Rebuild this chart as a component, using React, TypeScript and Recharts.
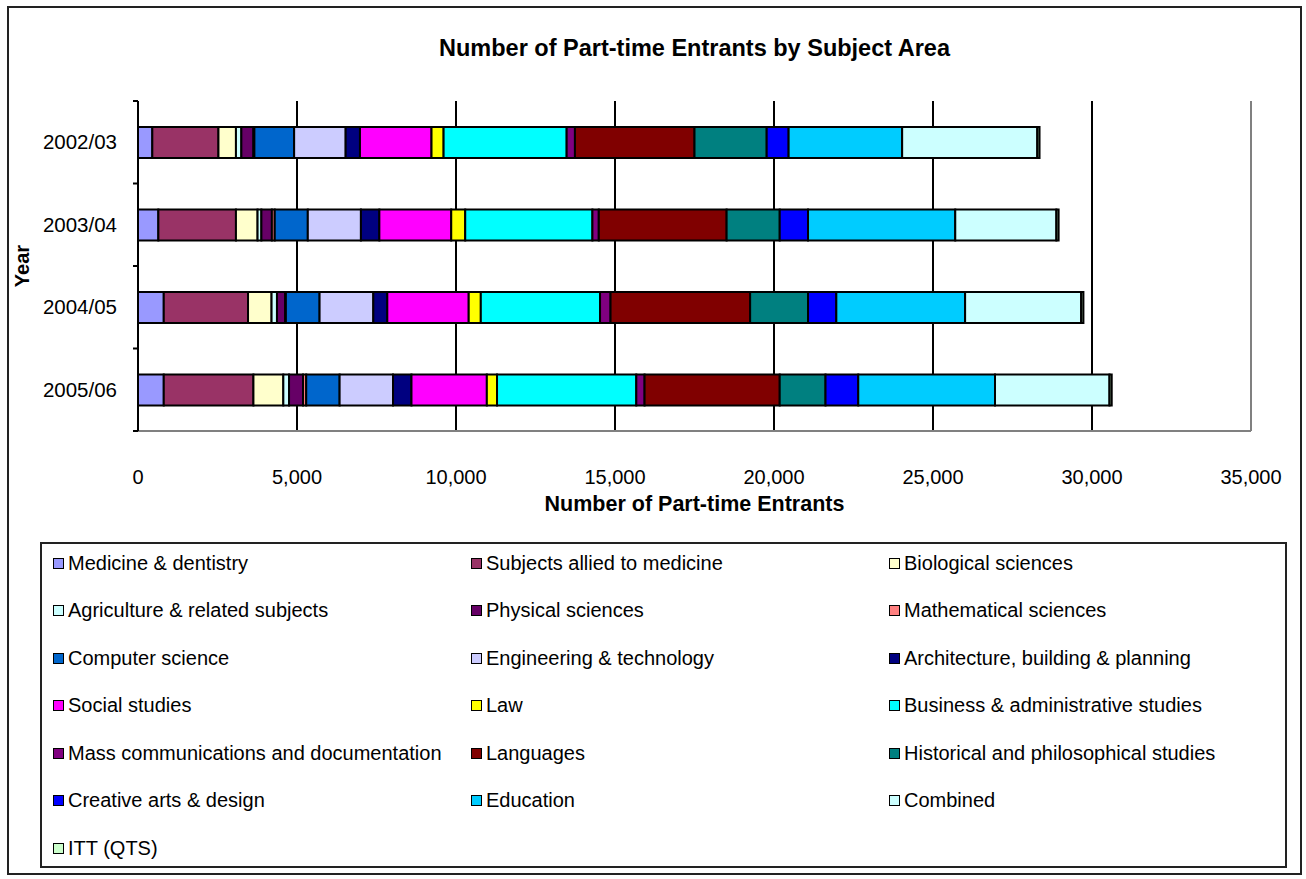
import { BarChart, Bar, XAxis, YAxis, CartesianGrid, ReferenceLine } from "recharts"

const years = ["2002/03", "2003/04", "2004/05", "2005/06"]

const subjects = [
  "Medicine & dentistry",
  "Subjects allied to medicine",
  "Biological sciences",
  "Agriculture & related subjects",
  "Physical sciences",
  "Mathematical sciences",
  "Computer science",
  "Engineering & technology",
  "Architecture, building & planning",
  "Social studies",
  "Law",
  "Business & administrative studies",
  "Mass communications and documentation",
  "Languages",
  "Historical and philosophical studies",
  "Creative arts & design",
  "Education",
  "Combined",
  "ITT (QTS)",
]

const colors = [
  "#9999FF", "#993366", "#FFFFCC", "#CCFFFF", "#660066", "#FF8080", "#0066CC",
  "#CCCCFF", "#000080", "#FF00FF", "#FFFF00", "#00FFFF", "#800080", "#800000",
  "#008080", "#0000FF", "#00CCFF", "#CCFFFF", "#CCFFCC",
]

// values per year, in the same order as subjects
const entrants0203 = [450, 2080, 550, 170, 380, 30, 1250, 1620, 450, 2250, 380, 3870, 260, 3760, 2270, 690, 3570, 4250, 70]
const entrants0304 = [640, 2440, 680, 120, 330, 90, 1040, 1670, 580, 2260, 440, 4000, 200, 4020, 1670, 890, 4630, 3180, 70]
const entrants0405 = [810, 2650, 740, 170, 260, 20, 1060, 1690, 440, 2560, 380, 3750, 330, 4390, 1820, 890, 4050, 3650, 70]
const entrants0506 = [810, 2820, 940, 180, 440, 100, 1050, 1680, 580, 2370, 320, 4380, 260, 4250, 1440, 1030, 4300, 3600, 70]

const xTicks = [0, 5000, 10000, 15000, 20000, 25000, 30000, 35000]

const byYear = [entrants0203, entrants0304, entrants0405, entrants0506]
const data = years.map((year, i) => {
  const row: Record<string, string | number> = { year }
  subjects.forEach((_, j) => {
    row["s" + j] = byYear[i][j]
  })
  return row
})

const font = "'Liberation Sans', Arial, sans-serif"

function YearTick(props: any) {
  const { x, y, payload, index, visibleTicksCount } = props
  const half = payload.offset ?? 0
  const axisX = x + 20
  return (
    <g>
      <line x1={axisX - 5} x2={axisX} y1={y - half} y2={y - half} stroke="#000" strokeWidth={2} />
      {index === visibleTicksCount - 1 && (
        <line x1={axisX - 5} x2={axisX} y1={y + half} y2={y + half} stroke="#000" strokeWidth={2} />
      )}
      <text x={x - 1} y={y} dy="0.35em" textAnchor="end" fontSize={20.5} fill="#000" fontFamily={font}>
        {payload.value}
      </text>
    </g>
  )
}

export default function App() {
  return (
    <div style={{ position: "absolute", left: 0, top: 0, width: 1306, height: 879, background: "#fff", fontFamily: font }}>
      <div
        style={{
          position: "absolute",
          left: 7,
          top: 6,
          width: 1291,
          height: 865,
          border: "2px solid #222",
        }}
      />
      <div
        style={{
          position: "absolute",
          left: 138,
          top: 34,
          width: 1113,
          textAlign: "center",
          fontSize: 23.5,
          lineHeight: "28px",
          fontWeight: "bold",
          color: "#000",
        }}
      >
        Number of Part-time Entrants by Subject Area
      </div>

      <div style={{ position: "absolute", left: 0, top: 0 }}>
        <BarChart
          width={1306}
          height={879}
          data={data}
          layout="vertical"
          margin={{ top: 101, right: 55, bottom: 368, left: 10 }}
          barSize={31}
        >
          <CartesianGrid horizontal={false} stroke="#000" strokeWidth={2} />
          <XAxis
            type="number"
            domain={[0, 35000]}
            ticks={xTicks}
            interval={0}
            height={80}
            axisLine={{ stroke: "#808080", strokeWidth: 2 }}
            tickLine={false}
            tickSize={0}
            tickMargin={39}
            tick={{ fontSize: 20, fill: "#000", fontFamily: font }}
            tickFormatter={(v: number) => v.toLocaleString("en-US")}
            label={{
              value: "Number of Part-time Entrants",
              position: "insideBottom",
              offset: 0,
              style: { fontSize: 21.5, fontWeight: "bold", fill: "#000", fontFamily: font },
            }}
          />
          <XAxis
            xAxisId="top"
            orientation="top"
            type="number"
            domain={[0, 35000]}
            ticks={xTicks}
            interval={0}
            height={0}
            axisLine={{ stroke: "#000", strokeWidth: 2 }}
            tickLine={{ stroke: "#000", strokeWidth: 2 }}
            tickSize={5}
            tick={() => <g />}
          />
          <YAxis
            type="category"
            dataKey="year"
            width={128}
            axisLine={{ stroke: "#000", strokeWidth: 2 }}
            tickLine={false}
            tickSize={0}
            tickMargin={20}
            interval={0}
            tick={<YearTick />}
            label={{
              value: "Year",
              angle: -90,
              position: "insideLeft",
              offset: 12,
              style: { fontSize: 20, fontWeight: "bold", fill: "#000", fontFamily: font, textAnchor: "middle" },
            }}
          />
          <ReferenceLine x={35000} stroke="#808080" strokeWidth={2} />
          {subjects.map((name, j) => (
            <Bar
              key={name}
              dataKey={"s" + j}
              name={name}
              stackId="a"
              fill={colors[j]}
              stroke="#000"
              strokeWidth={2}
              isAnimationActive={false}
            />
          ))}
        </BarChart>
      </div>

      <div
        style={{
          position: "absolute",
          left: 40,
          top: 542,
          width: 1243,
          height: 322,
          border: "2px solid #222",
        }}
      >
        {subjects.map((name, j) => {
          const col = j % 3
          const row = Math.floor(j / 3)
          return (
            <div
              key={name}
              style={{
                position: "absolute",
                left: 11 + col * 418,
                top: 7 + row * 47.5,
                height: 24,
                display: "flex",
                alignItems: "center",
                whiteSpace: "nowrap",
                fontSize: 20,
                color: "#000",
              }}
            >
              <span
                style={{
                  display: "inline-block",
                  width: 9,
                  height: 9,
                  background: colors[j],
                  border: "1.5px solid #000",
                  marginRight: 4,
                }}
              />
              {name}
            </div>
          )
        })}
      </div>
    </div>
  )
}
